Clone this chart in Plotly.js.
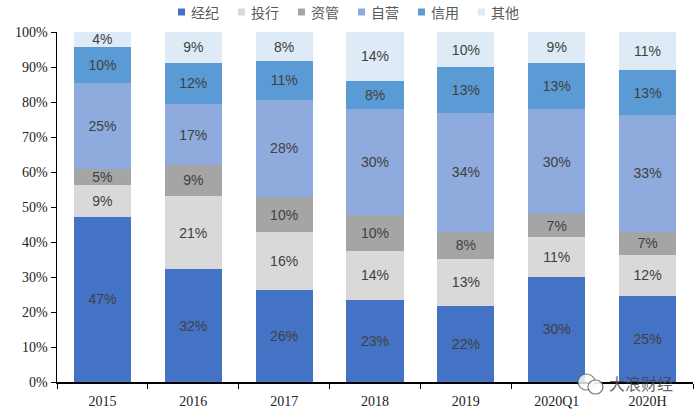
<!DOCTYPE html>
<html>
<head>
<meta charset="utf-8">
<script src="https://cdn.plot.ly/plotly-3.0.1.min.js"></script>
<style>html,body{margin:0;padding:0;background:#fff;}#chart{width:700px;height:415px;}</style>
</head>
<body>
<div id="chart"></div>
<script>
var categories = ['2015', '2016', '2017', '2018', '2019', '2020Q1', '2020H'];
var seriesNames = ['经纪', '投行', '资管', '自营', '信用', '其他'];
var brokerage = [47.2, 32.2, 26.4, 23.4, 21.8, 30.1, 24.6];
var investmentBanking = [9.1, 21.0, 16.4, 14.1, 13.4, 11.2, 11.8];
var assetManagement = [4.6, 8.8, 10.0, 10.1, 7.8, 6.6, 6.6];
var proprietary = [24.6, 17.4, 27.9, 30.3, 33.9, 30.1, 33.2];
var credit = [10.3, 11.8, 11.0, 8.2, 13.1, 13.2, 12.9];
var others = [4.2, 8.8, 8.3, 13.9, 10.0, 8.8, 10.9];
var yTickValues = [0, 10, 20, 30, 40, 50, 60, 70, 80, 90, 100];

var seriesValues = [brokerage, investmentBanking, assetManagement, proprietary, credit, others];
var colors = ['#4472C4', '#D9D9D9', '#A5A5A5', '#8FAADC', '#5B9BD5', '#DEEBF7'];

var traces = seriesValues.map(function (vals, i) {
  return {
    type: 'bar',
    name: seriesNames[i],
    x: categories,
    y: vals,
    marker: {color: colors[i], line: {width: 0}},
    text: vals.map(function (v) { return Math.round(v) + '%'; }),
    textposition: 'inside',
    insidetextanchor: 'middle',
    textangle: 0,
    textfont: {family: 'Liberation Sans, Arial, sans-serif', size: 14, color: '#404040'},
    hoverinfo: 'none',
    showlegend: false
  };
});

// pixel -> paper helpers (plot area spans x 57..693, y 32..382)
function px(x) { return (x - 57) / 636; }
function py(y) { return (382 - y) / 350; }

var shapes = [
  {type: 'circle', xref: 'paper', yref: 'paper', x0: px(578), x1: px(595), y0: py(390), y1: py(374),
   line: {color: 'rgba(90,90,90,0.8)', width: 1.2}, fillcolor: 'rgba(255,255,255,0.8)'},
  {type: 'circle', xref: 'paper', yref: 'paper', x0: px(588), x1: px(603), y0: py(394), y1: py(380),
   line: {color: 'rgba(90,90,90,0.8)', width: 1.2}, fillcolor: 'rgba(255,255,255,0.9)'}
];
var annotations = [{
  text: '大浪财经',
  xref: 'paper', yref: 'paper',
  x: px(607), y: py(383),
  xanchor: 'left', yanchor: 'middle',
  showarrow: false,
  font: {family: 'Noto Sans CJK SC, sans-serif', size: 16, color: 'rgba(70,70,70,0.85)'}
}];

// custom legend: small square + label, one entry every 60px
seriesNames.forEach(function (name, i) {
  var cx = 181.5 + i * 60;
  shapes.push({
    type: 'rect', xref: 'paper', yref: 'paper',
    x0: px(cx - 3.5), x1: px(cx + 3.5), y0: py(15.5), y1: py(8.5),
    line: {width: 0}, fillcolor: colors[i]
  });
  annotations.push({
    text: name,
    xref: 'paper', yref: 'paper',
    x: px(cx + 7), y: py(12),
    xanchor: 'left', yanchor: 'middle',
    showarrow: false,
    font: {family: 'Noto Sans CJK SC, sans-serif', size: 14, color: '#595959'}
  });
});

var layout = {
  width: 700,
  height: 415,
  margin: {l: 57, r: 7, t: 32, b: 33},
  paper_bgcolor: '#ffffff',
  plot_bgcolor: '#ffffff',
  barmode: 'stack',
  bargap: 0.37,
  showlegend: false,
  uniformtext: {mode: 'show', minsize: 14},
  xaxis: {
    type: 'category',
    showline: true,
    linecolor: '#000000',
    linewidth: 1.5,
    ticks: 'outside',
    tickson: 'boundaries',
    ticklen: 5,
    tickcolor: '#000000',
    ticklabelstandoff: 6,
    tickfont: {family: 'Liberation Serif, Times New Roman, serif', size: 14, color: '#222222'},
    showgrid: false,
    zeroline: false
  },
  yaxis: {
    range: [0, 100],
    tickvals: yTickValues,
    ticktext: yTickValues.map(function (v) { return v + '%'; }),
    showline: true,
    linecolor: '#000000',
    linewidth: 1.5,
    ticks: 'outside',
    ticklen: 5,
    tickcolor: '#000000',
    tickfont: {family: 'Liberation Serif, Times New Roman, serif', size: 14, color: '#222222'},
    showgrid: false,
    zeroline: false
  },
  shapes: shapes,
  annotations: annotations
};

Plotly.newPlot('chart', traces, layout, {displayModeBar: false, staticPlot: true});
</script>
</body>
</html>
